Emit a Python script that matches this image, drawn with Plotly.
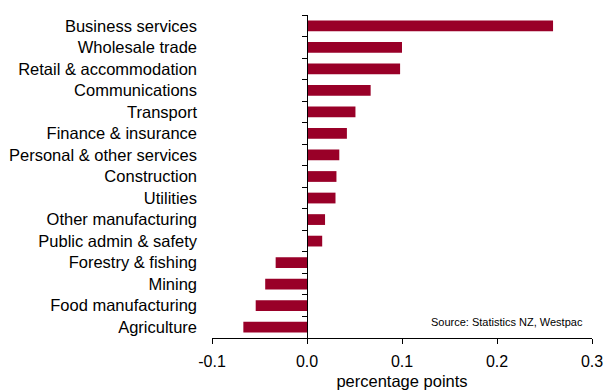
import plotly.graph_objects as go

categories = ["Business services", "Wholesale trade", "Retail & accommodation",
              "Communications", "Transport", "Finance & insurance",
              "Personal & other services", "Construction", "Utilities",
              "Other manufacturing", "Public admin & safety", "Forestry & fishing",
              "Mining", "Food manufacturing", "Agriculture"]
values = [0.259, 0.100, 0.098, 0.067, 0.051, 0.042, 0.034, 0.031, 0.030,
          0.019, 0.016, -0.033, -0.044, -0.054, -0.067]
x_tickvals = [-0.1, 0.0, 0.1, 0.2, 0.3]
x_ticktext = ["-0.1", "0.0", "0.1", "0.2", "0.3"]

cats_rev = categories[::-1]
vals_rev = values[::-1]
bar_color = "#990028"

fig = go.Figure()
fig.add_trace(go.Bar(x=vals_rev, y=cats_rev, orientation="h", width=0.5,
                     marker=dict(color=bar_color, line=dict(width=0)),
                     showlegend=False, yaxis="y"))
fig.add_trace(go.Bar(x=vals_rev, y=cats_rev, orientation="h", width=0.5,
                     marker=dict(color="rgba(0,0,0,0)", line=dict(width=0)),
                     showlegend=False, hoverinfo="skip", yaxis="y2"))

fig.update_layout(
    width=606, height=390,
    margin=dict(l=212, r=14, t=15, b=52, autoexpand=False),
    paper_bgcolor="white", plot_bgcolor="white",
    font=dict(family="Liberation Sans, Arial, sans-serif", color="black"),
    bargap=0.5,
    xaxis=dict(range=[-0.1, 0.3], tickmode="array", tickvals=x_tickvals,
               ticktext=x_ticktext,
               showgrid=False, zeroline=False, showline=True, linecolor="black",
               linewidth=1, ticks="outside", ticklen=5, tickcolor="black",
               tickfont=dict(size=16), ticklabelstandoff=4, automargin=False,
               title=dict(text="percentage points", font=dict(size=16.5), standoff=26)),
    yaxis=dict(type="category", categoryorder="array", categoryarray=cats_rev,
               range=[-0.5, 14.5], showgrid=False, zeroline=False, showline=False,
               ticks="", tickfont=dict(size=16.5), ticklabelstandoff=14, automargin=False),
    yaxis2=dict(type="category", categoryorder="array", categoryarray=cats_rev,
                range=[-0.5, 14.5], overlaying="y", anchor="free", position=0.25,
                side="left", showgrid=False, zeroline=False, showline=True,
                linecolor="black", linewidth=1, ticks="outside", ticklen=5,
                tickcolor="black", tickson="boundaries", showticklabels=False,
                automargin=False),
    annotations=[dict(text="Source: Statistics NZ, Westpac", xref="paper", yref="paper",
                      x=0.981, y=0.05, xanchor="right", yanchor="middle",
                      showarrow=False, font=dict(size=11))],
)

fig.write_html("out.html")
